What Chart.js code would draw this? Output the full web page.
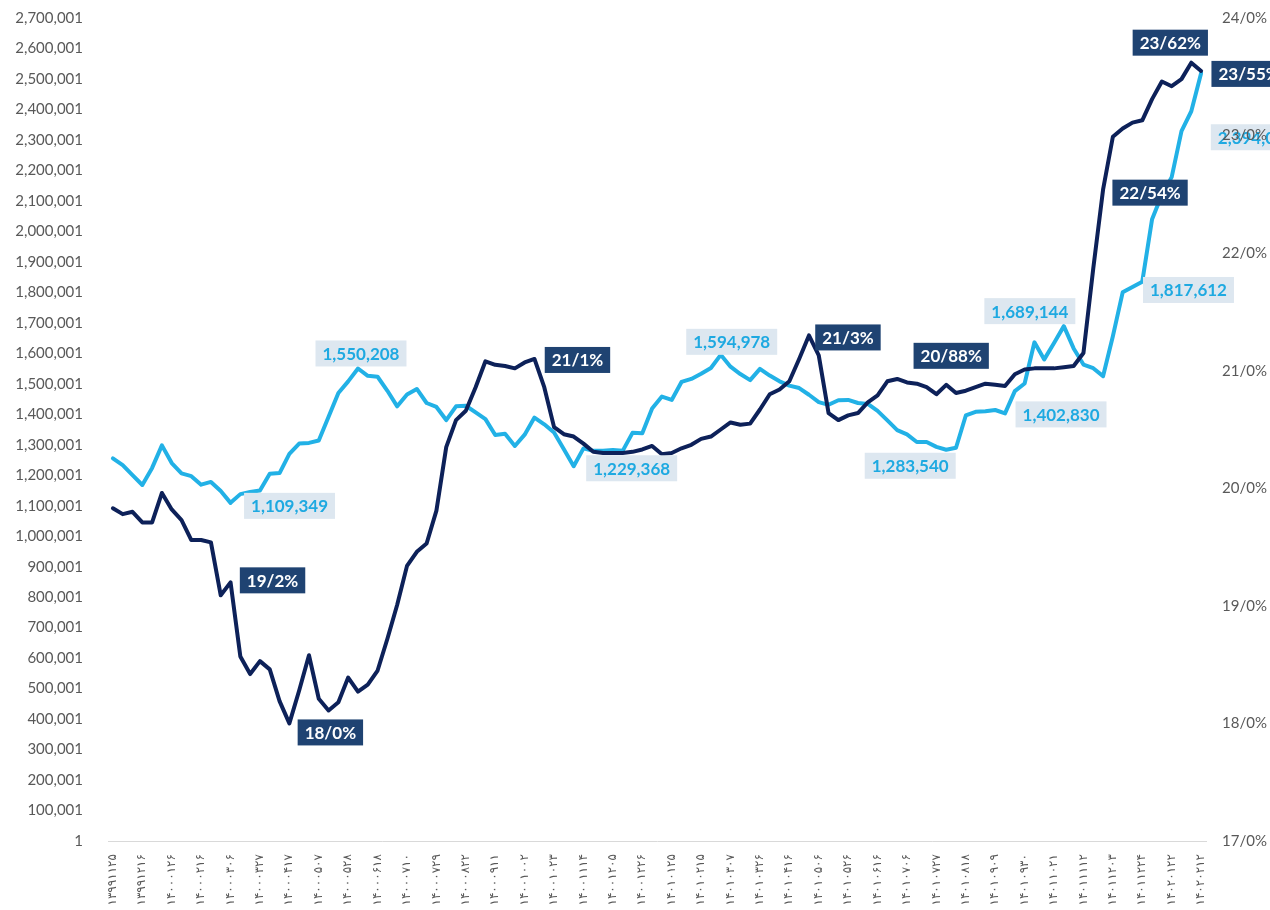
<!DOCTYPE html>
<html>
<head>
<meta charset="utf-8">
<script src="https://cdn.jsdelivr.net/npm/chart.js@4"></script>
<style>
  html, body { margin: 0; padding: 0; background: #fff; }
  #wrap { width: 1270px; height: 910px; position: relative; }
</style>
</head>
<body>
<div id="wrap"><canvas id="chart"></canvas></div>
<script>
// tick dates on the category axis, one every third weekly point
const tickDates = [
  '۱۳۹۹۱۱۲۵','۱۳۹۹۱۲۱۶','۱۴۰۰۰۱۲۶','۱۴۰۰۰۲۱۶','۱۴۰۰۰۳۰۶','۱۴۰۰۰۳۲۷','۱۴۰۰۰۴۱۷','۱۴۰۰۰۵۰۷',
  '۱۴۰۰۰۵۲۸','۱۴۰۰۰۶۱۸','۱۴۰۰۰۷۱۰','۱۴۰۰۰۷۲۹','۱۴۰۰۰۸۲۲','۱۴۰۰۰۹۱۱','۱۴۰۰۱۰۰۲','۱۴۰۰۱۰۲۳',
  '۱۴۰۰۱۱۱۴','۱۴۰۰۱۲۰۵','۱۴۰۰۱۲۲۶','۱۴۰۱۰۱۲۵','۱۴۰۱۰۲۱۵','۱۴۰۱۰۳۰۷','۱۴۰۱۰۳۲۶','۱۴۰۱۰۴۱۶',
  '۱۴۰۱۰۵۰۶','۱۴۰۱۰۵۲۶','۱۴۰۱۰۶۱۶','۱۴۰۱۰۷۰۶','۱۴۰۱۰۷۲۷','۱۴۰۱۰۸۱۸','۱۴۰۱۰۹۰۹','۱۴۰۱۰۹۳۰',
  '۱۴۰۱۱۰۲۱','۱۴۰۱۱۱۱۲','۱۴۰۱۱۲۰۳','۱۴۰۱۱۲۲۴','۱۴۰۲۰۱۲۲','۱۴۰۲۰۲۱۲'
];
const TICK_EVERY = 3;

// index level (left axis)
const indexValues = [
  1255000,1233000,1200000,1168000,1224000,1298000,1240000,1206000,1197000,1169000,
  1178000,1148000,1109349,1138000,1145000,1150000,1205000,1207000,1270000,1304000,
  1306000,1314000,1392000,1470000,1508000,1550208,1526000,1523000,1477000,1426000,
  1465000,1483000,1437000,1424000,1381000,1426000,1428000,1406000,1384000,1332000,
  1336000,1296000,1333000,1389000,1367000,1340000,1285000,1229368,1288000,1280000,
  1280000,1283000,1280000,1339000,1338000,1419000,1458000,1447000,1506000,1516000,
  1533000,1552000,1594978,1556000,1532000,1512000,1549000,1527000,1508000,1494000,
  1486000,1464000,1440000,1431000,1446000,1447000,1437000,1434000,1411000,1380000,
  1348000,1334000,1309000,1309000,1293000,1283540,1290000,1396000,1408000,1410000,
  1414000,1402830,1476000,1501000,1636000,1580000,1634000,1689144,1616000,1563000,
  1551000,1525000,1656000,1800000,1817612,1835000,2040000,2120000,2178000,2329000,
  2394083,2519000
];

// interbank rate, percent (right axis)
const rateValues = [
  19.83,19.78,19.80,19.71,19.71,19.96,19.82,19.73,19.56,19.56,
  19.54,19.09,19.2,18.57,18.42,18.53,18.46,18.19,18.0,18.28,
  18.58,18.21,18.11,18.18,18.39,18.27,18.33,18.45,18.72,19.01,
  19.34,19.46,19.53,19.81,20.35,20.58,20.66,20.86,21.08,21.05,
  21.04,21.02,21.07,21.1,20.86,20.52,20.46,20.44,20.38,20.31,
  20.30,20.30,20.30,20.31,20.33,20.36,20.29,20.30,20.34,20.37,
  20.42,20.44,20.50,20.56,20.54,20.55,20.67,20.80,20.84,20.91,
  21.10,21.3,21.13,20.64,20.58,20.62,20.64,20.73,20.79,20.91,
  20.93,20.90,20.89,20.86,20.80,20.88,20.81,20.83,20.86,20.89,
  20.88,20.87,20.97,21.01,21.02,21.02,21.02,21.03,21.04,21.15,
  21.87,22.54,22.99,23.06,23.11,23.13,23.31,23.46,23.42,23.48,
  23.62,23.55
];

// points that carry a value label
const indexLabelAt = [12, 25, 47, 62, 85, 91, 97, 104, 110];
const rateLabelAt = [12, 18, 43, 71, 85, 101, 110, 111];

const categories = indexValues.map((_, i) => i % TICK_EVERY === 0 ? tickDates[i / TICK_EVERY] : '');

const LIGHT = '#22b1e6';
const DARK = '#0d2159';
const TICK_COLOR = '#595959';

function fmtIndex(v) { return Math.round(v).toLocaleString('en-US'); }
function fmtRate(v) {
  const d = Math.abs(v * 10 - Math.round(v * 10)) < 1e-9 ? 1 : 2;
  return v.toFixed(d).replace('.', '/') + '%';
}

// box offsets from the point (centre of box), per label
const labelStyle = {
  index: { bg: '#dde7f0', color: '#1ea9e1', fmt: fmtIndex,
    offsets: [[59,3],[3,-15],[58,2],[11,-13],[-36,16],[56,1],[-34,-15],[56,3],[65,26]] },
  rate: { bg: '#1f4372', color: '#ffffff', fmt: fmtRate,
    offsets: [[42,-2],[41,9],[43,1],[39,2],[5,-29],[47,3],[-21,-20],[48,3]] }
};

const boxLabels = {
  id: 'boxLabels',
  afterDatasetsDraw(chart) {
    const ctx = chart.ctx;
    ctx.save();
    ctx.font = 'bold 17px Lato';
    ctx.textAlign = 'center';
    ctx.textBaseline = 'middle';
    [['index', 1, indexLabelAt], ['rate', 0, rateLabelAt]].forEach(([key, dsi, idxs]) => {
      const st = labelStyle[key];
      const meta = chart.getDatasetMeta(dsi);
      const data = chart.data.datasets[dsi].data;
      idxs.forEach((idx, k) => {
        const pt = meta.data[idx];
        const [dx, dy] = st.offsets[k];
        const text = st.fmt(data[idx]);
        const w = ctx.measureText(text).width + 14;
        const h = 26;
        const cx = pt.x + dx, cy = pt.y + dy;
        ctx.fillStyle = st.bg;
        ctx.fillRect(cx - w / 2, cy - h / 2, w, h);
        ctx.fillStyle = st.color;
        ctx.fillText(text, cx, cy + 1);
      });
    });
    ctx.restore();
  }
};

// fixed axis sizes; drop the vertical padding the tick gap would add
function fitSide(width) {
  return s => { s.width = width; s.paddingTop = 0; s.paddingBottom = 0; };
}

new Chart(document.getElementById('chart'), {
  type: 'line',
  data: {
    labels: categories,
    datasets: [
      { data: rateValues, yAxisID: 'y1', borderColor: DARK, borderWidth: 4, pointRadius: 0, tension: 0, borderJoinStyle: 'round', borderCapStyle: 'round' },
      { data: indexValues, yAxisID: 'y', borderColor: LIGHT, borderWidth: 4, pointRadius: 0, tension: 0, borderJoinStyle: 'round', borderCapStyle: 'round' }
    ]
  },
  options: {
    responsive: true, maintainAspectRatio: false, animation: false,
    layout: { autoPadding: false, padding: { top: 18, left: 0, right: 0, bottom: 0 } },
    plugins: { legend: { display: false }, tooltip: { enabled: false } },
    scales: {
      x: {
        offset: true,
        grid: { display: false },
        border: { display: true, color: '#d9d9d9', width: 1 },
        ticks: {
          autoSkip: false, minRotation: 90, maxRotation: 90, padding: 5,
          color: TICK_COLOR, font: { family: 'DejaVu Sans', size: 12 },
          callback: (v, i) => categories[i]
        },
        afterFit: s => { s.height = 69; s.paddingLeft = 0; s.paddingRight = 0; }
      },
      y: {
        position: 'left', min: 1, max: 2700001,
        grid: { display: false, drawTicks: false },
        border: { display: false },
        ticks: { stepSize: 100000, padding: 25, color: TICK_COLOR, font: { family: 'Lato', size: 15 },
          callback: v => fmtIndex(v) },
        afterFit: fitSide(108)
      },
      y1: {
        position: 'right', min: 17, max: 24,
        grid: { display: false, drawTicks: false },
        border: { display: false },
        ticks: { z: 1, stepSize: 1, padding: 16, color: TICK_COLOR, font: { family: 'Lato', size: 15 },
          callback: v => v.toFixed(1).replace('.', '/') + '%' },
        afterFit: fitSide(64)
      }
    }
  },
  plugins: [boxLabels]
});
</script>
</body>
</html>
